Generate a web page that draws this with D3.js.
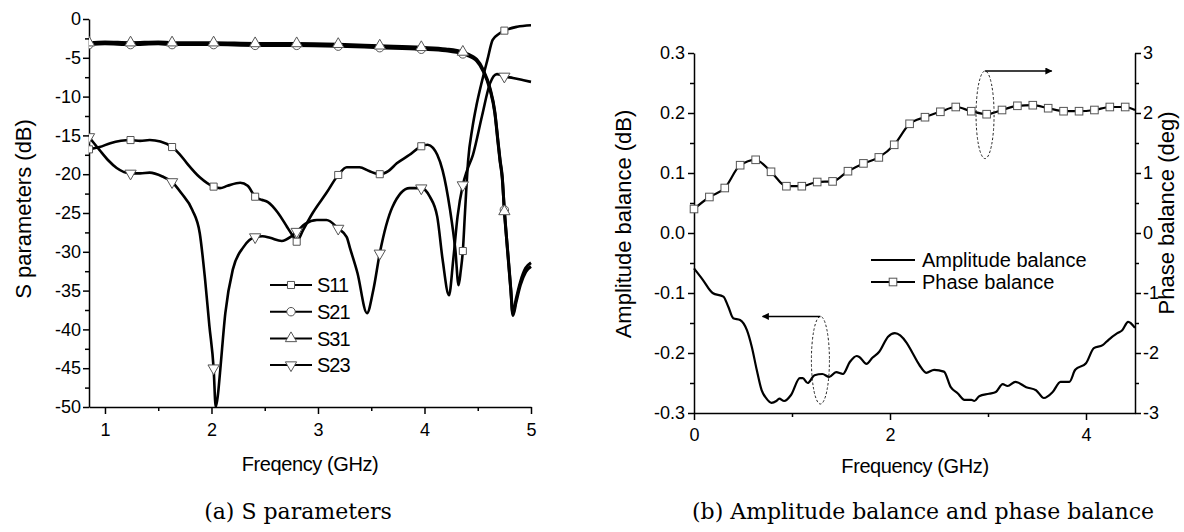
<!DOCTYPE html>
<html>
<head>
<meta charset="utf-8">
<script src="https://cdn.jsdelivr.net/npm/d3@7"></script>
<style>
    body { margin: 0; background: #fff; }
    svg { display: block; font-family: "Liberation Sans", Arial, sans-serif; }
</style>
</head>
<body>
<svg id="chart" width="1184" height="532"></svg>
<script>
// --- data (a) S parametry, [GHz, dB] ---
const markerFreqA = [0.85, 1.24, 1.63, 2.02, 2.41, 2.80, 3.19, 3.58, 3.97, 4.36, 4.75];

const s11 = [
    [0.85,-16.8],[0.95,-16.5],[1.05,-16.0],[1.15,-15.7],[1.24,-15.6],[1.33,-15.7],[1.42,-15.6],
    [1.52,-15.8],[1.63,-16.5],[1.70,-17.4],[1.77,-18.6],[1.89,-20.4],[2.02,-21.6],[2.08,-21.8],
    [2.15,-21.5],[2.27,-21.1],[2.34,-21.5],[2.41,-22.9],[2.47,-23.3],[2.53,-23.6],[2.62,-24.9],
    [2.71,-26.8],[2.77,-28.1],[2.80,-28.7],[2.86,-27.2],[2.95,-25.0],[3.08,-22.4],[3.19,-20.1],
    [3.27,-19.1],[3.39,-19.1],[3.48,-19.6],[3.58,-20.0],[3.66,-19.6],[3.74,-18.6],[3.86,-17.5],
    [3.97,-16.4],[4.03,-16.2],[4.08,-16.6],[4.12,-17.5],[4.17,-19.5],[4.24,-24.6],[4.29,-29.8],
    [4.32,-34.3],[4.34,-32.5],[4.36,-29.9],[4.38,-25.0],[4.41,-18.2],[4.45,-14.0],[4.49,-11.0],
    [4.54,-8.0],[4.59,-5.3],[4.64,-2.7],[4.70,-1.9],[4.75,-1.5],[4.87,-1.0],[5.0,-0.8]
];
const s21 = [
    [0.85,-3.3],[1.0,-3.2],[1.24,-3.3],[1.5,-3.2],[1.63,-3.3],[2.02,-3.3],[2.41,-3.4],[2.80,-3.4],
    [3.19,-3.5],[3.58,-3.7],[3.97,-3.9],[4.2,-4.1],[4.36,-4.5],[4.45,-5.0],[4.49,-5.4],[4.55,-6.7],
    [4.615,-9.1],[4.66,-12.1],[4.69,-15.9],[4.71,-18.4],[4.73,-20.5],[4.75,-24.6],[4.78,-29.9],
    [4.81,-34.9],[4.83,-38.2],[4.86,-36.5],[4.90,-34.3],[4.95,-32.6],[5.0,-31.9]
];
const s31 = [
    [0.85,-3.05],[1.0,-2.95],[1.24,-3.05],[1.5,-2.95],[1.63,-3.05],[2.02,-3.05],[2.41,-3.15],[2.80,-3.15],
    [3.19,-3.25],[3.58,-3.45],[3.97,-3.65],[4.2,-3.85],[4.36,-4.25],[4.45,-4.8],[4.49,-5.2],[4.55,-6.5],
    [4.615,-8.9],[4.66,-11.9],[4.69,-15.7],[4.71,-18.2],[4.73,-20.3],[4.75,-24.8],[4.78,-29.7],
    [4.81,-34.7],[4.83,-38.0],[4.86,-36.1],[4.90,-33.9],[4.95,-32.1],[5.0,-31.4]
];
const s23 = [
    [0.85,-15.2],[0.95,-16.9],[1.03,-18.2],[1.11,-19.2],[1.24,-19.9],[1.33,-19.9],[1.42,-19.8],
    [1.54,-20.3],[1.63,-21.0],[1.72,-22.5],[1.82,-24.6],[1.89,-27.6],[1.94,-33.6],[1.98,-39.5],
    [2.02,-45.0],[2.04,-50.0],[2.06,-48.5],[2.08,-45.6],[2.13,-37.9],[2.20,-32.3],[2.30,-29.4],
    [2.41,-28.1],[2.48,-28.0],[2.55,-28.2],[2.66,-28.6],[2.74,-28.1],[2.80,-27.4],[2.88,-26.4],
    [2.99,-25.9],[3.08,-25.9],[3.19,-27.0],[3.27,-28.1],[3.30,-29.5],[3.37,-32.7],[3.46,-37.9],
    [3.52,-34.9],[3.58,-30.2],[3.70,-24.2],[3.86,-21.8],[3.97,-21.8],[4.05,-22.9],[4.12,-25.5],
    [4.17,-31.0],[4.23,-35.6],[4.27,-31.0],[4.31,-25.5],[4.36,-21.4],[4.40,-19.5],[4.455,-17.5],
    [4.54,-12.5],[4.615,-8.3],[4.68,-7.1],[4.75,-7.4],[4.83,-7.6],[4.93,-7.9],[5.0,-8.1]
];
const legendA = ["S11", "S21", "S31", "S23"];

// --- data (b) amplitudova a fazova nevyvazenost ---
// [GHz, dB]
const amplitude = [
    [0.0,-0.059],[0.09,-0.078],[0.19,-0.100],[0.30,-0.106],[0.35,-0.123],[0.40,-0.142],[0.47,-0.145],
    [0.54,-0.162],[0.59,-0.190],[0.64,-0.228],[0.69,-0.262],[0.74,-0.276],[0.79,-0.283],[0.84,-0.280],
    [0.87,-0.276],[0.92,-0.280],[0.99,-0.270],[1.08,-0.242],[1.11,-0.242],[1.16,-0.250],[1.23,-0.237],
    [1.31,-0.235],[1.38,-0.240],[1.45,-0.232],[1.52,-0.235],[1.59,-0.215],[1.66,-0.205],[1.69,-0.207],
    [1.76,-0.218],[1.82,-0.208],[1.89,-0.198],[1.98,-0.173],[2.05,-0.167],[2.17,-0.183],[2.23,-0.200],
    [2.30,-0.220],[2.37,-0.233],[2.45,-0.228],[2.55,-0.231],[2.62,-0.257],[2.69,-0.267],[2.76,-0.278],
    [2.83,-0.278],[2.86,-0.280],[2.91,-0.272],[3.01,-0.268],[3.08,-0.265],[3.15,-0.252],[3.20,-0.255],
    [3.28,-0.248],[3.39,-0.257],[3.49,-0.262],[3.57,-0.275],[3.66,-0.265],[3.74,-0.248],[3.83,-0.248],
    [3.89,-0.228],[4.00,-0.217],[4.08,-0.192],[4.17,-0.187],[4.23,-0.178],[4.32,-0.167],[4.37,-0.162],
    [4.43,-0.148],[4.5,-0.158]
];
// [GHz, deg], posledni bod uz nema znacku
const phase = [
    [0.0,0.40],[0.157,0.60],[0.314,0.75],[0.471,1.13],[0.629,1.22],[0.786,1.02],[0.943,0.78],
    [1.1,0.78],[1.257,0.85],[1.414,0.86],[1.571,1.03],[1.729,1.16],[1.886,1.26],[2.043,1.47],
    [2.2,1.82],[2.357,1.93],[2.514,2.02],[2.671,2.10],[2.829,2.03],[2.986,1.98],[3.143,2.05],
    [3.3,2.12],[3.457,2.13],[3.614,2.08],[3.771,2.03],[3.929,2.03],[4.086,2.05],[4.243,2.10],
    [4.4,2.10],[4.5,2.05]
];
const legendB = ["Amplitude balance", "Phase balance"];
// ovaly s sipkami: [GHz, stred, polomer x (GHz), polomer y, konec sipky (GHz)]
const phaseNote = [2.97, 1.97, 0.092, 0.73, 3.65];
const ampNote = [1.29, -0.212, 0.092, 0.073, 0.70];

// --- skaly ---
const xa = d3.scaleLinear().domain([0.85, 5]).range([89, 531]);
const ya = d3.scaleLinear().domain([-50, 0]).range([407, 19]);
const xb = d3.scaleLinear().domain([0, 4.5]).range([694, 1135]);
const yb = d3.scaleLinear().domain([-0.3, 0.3]).range([413, 53]);
const yb2 = d3.scaleLinear().domain([-3, 3]).range([413, 53]);

const svg = d3.select("#chart");
svg.append("rect").attr("width", 1184).attr("height", 532).attr("fill", "#fff");

const defs = svg.append("defs");
defs.append("clipPath").attr("id", "clipA")
    .append("rect").attr("x", 89).attr("y", 10).attr("width", 450).attr("height", 398);
defs.append("marker").attr("id", "arrow")
    .attr("viewBox", "0 0 10 10").attr("refX", 9).attr("refY", 5)
    .attr("markerWidth", 11).attr("markerHeight", 7).attr("markerUnits", "userSpaceOnUse")
    .attr("orient", "auto")
    .append("path").attr("d", "M0,0 L10,5 L0,10 z").attr("fill", "#000");

// styl osy
function styleAxis(g, size) {
    g.selectAll("path, line").attr("stroke", "#000").attr("stroke-width", 1.5);
    g.selectAll("text").attr("font-size", size || 18).attr("fill", "#000")
        .attr("font-family", "Liberation Sans, Arial, sans-serif");
}
const fmtInt = d => String(d);
const fmt1 = d => d.toFixed(1);

// ================= (a) =================
const ga = svg.append("g");

ga.append("g").attr("transform", "translate(0,407)")
    .call(d3.axisBottom(xa).tickValues([1.5, 2.5, 3.5, 4.5]).tickSize(4).tickSizeOuter(0).tickFormat(""))
    .call(g => g.select(".domain").remove()).call(styleAxis);
ga.append("g").attr("transform", "translate(0,407)")
    .call(d3.axisBottom(xa).tickValues([1, 2, 3, 4, 5]).tickSize(7).tickPadding(9).tickSizeOuter(0).tickFormat(fmtInt))
    .call(styleAxis);
ga.append("g").attr("transform", "translate(89,0)")
    .call(d3.axisLeft(ya).tickValues(d3.range(-47.5, 0, 5)).tickSize(4).tickSizeOuter(0).tickFormat(""))
    .call(g => g.select(".domain").remove()).call(styleAxis);
ga.append("g").attr("transform", "translate(89,0)")
    .call(d3.axisLeft(ya).tickValues(d3.range(-50, 1, 5)).tickSize(6).tickPadding(2).tickSizeOuter(0).tickFormat(fmtInt))
    .call(styleAxis);

ga.append("text").attr("transform", "translate(31,209) rotate(-90)")
    .attr("text-anchor", "middle").attr("font-size", 22).text("S parameters (dB)");
ga.append("text").attr("x", 310).attr("y", 471)
    .attr("text-anchor", "middle").attr("font-size", 20).attr("letter-spacing", -0.4).text("Freqency (GHz)");

const lineA = d3.line().curve(d3.curveMonotoneX).x(d => xa(d[0])).y(d => ya(d[1]));
const plotA = ga.append("g").attr("clip-path", "url(#clipA)");
const seriesA = [
    {name: "S11", data: s11, sym: d3.symbolSquare, size: 50, rot: 0, w: 2.6},
    {name: "S21", data: s21, sym: d3.symbolCircle, size: 56, rot: 0, w: 3},
    {name: "S31", data: s31, sym: d3.symbolTriangle, size: 55, rot: 0, w: 3},
    {name: "S23", data: s23, sym: d3.symbolTriangle, size: 55, rot: 180, w: 2.6}
];
seriesA.forEach(s => {
    plotA.append("path").datum(s.data)
        .attr("fill", "none").attr("stroke", "#000").attr("stroke-width", s.w)
        .attr("stroke-linejoin", "round").attr("d", lineA);
});
const isMark = f => markerFreqA.some(m => Math.abs(m - f) < 1e-6);
seriesA.forEach(s => {
    plotA.selectAll(null).data(s.data.filter(d => isMark(d[0])))
        .join("path")
        .attr("transform", d => `translate(${xa(d[0])},${ya(d[1])}) rotate(${s.rot})`)
        .attr("d", d3.symbol().type(s.sym).size(s.size))
        .attr("fill", "#fff").attr("stroke", "#555").attr("stroke-width", 1);
});

// legenda (a)
const legA = ga.append("g");
seriesA.forEach((s, i) => {
    const y = 285 + i * 26.7;
    legA.append("line").attr("x1", 270).attr("x2", 312).attr("y1", y).attr("y2", y)
        .attr("stroke", "#000").attr("stroke-width", 2);
    legA.append("path").attr("transform", `translate(291,${y}) rotate(${s.rot})`)
        .attr("d", d3.symbol().type(s.sym).size(s.size))
        .attr("fill", "#fff").attr("stroke", "#555").attr("stroke-width", 1);
    legA.append("text").attr("x", 317).attr("y", y).attr("dy", "0.36em")
        .attr("font-size", 20).attr("letter-spacing", -1).text(legendA[i]);
});

// ================= (b) =================
const gb = svg.append("g");

gb.append("g").attr("transform", "translate(0,413)")
    .call(d3.axisBottom(xb).tickValues([1, 3]).tickSize(4).tickSizeOuter(0).tickFormat(""))
    .call(g => g.select(".domain").remove()).call(styleAxis);
gb.append("g").attr("transform", "translate(0,413)")
    .call(d3.axisBottom(xb).tickValues([0, 2, 4]).tickSize(7).tickPadding(8).tickSizeOuter(0).tickFormat(fmtInt))
    .call(styleAxis);
gb.append("g").attr("transform", "translate(694,0)")
    .call(d3.axisLeft(yb).tickValues([-0.25, -0.15, -0.05, 0.05, 0.15, 0.25]).tickSize(4).tickSizeOuter(0).tickFormat(""))
    .call(g => g.select(".domain").remove()).call(styleAxis);
gb.append("g").attr("transform", "translate(694,0)")
    .call(d3.axisLeft(yb).tickValues([-0.3, -0.2, -0.1, 0, 0.1, 0.2, 0.3]).tickSize(6).tickPadding(3).tickSizeOuter(0).tickFormat(fmt1))
    .call(styleAxis);
gb.append("g").attr("transform", "translate(1135,0)")
    .call(d3.axisRight(yb2).tickValues([-2.5, -1.5, -0.5, 0.5, 1.5, 2.5]).tickSize(4).tickSizeOuter(0).tickFormat(""))
    .call(g => g.select(".domain").remove()).call(styleAxis);
gb.append("g").attr("transform", "translate(1135,0)")
    .call(d3.axisRight(yb2).tickValues([-3, -2, -1, 0, 1, 2, 3]).tickSize(6).tickPadding(2).tickSizeOuter(0).tickFormat(fmtInt))
    .call(styleAxis);

gb.append("text").attr("transform", "translate(631,224) rotate(-90)")
    .attr("text-anchor", "middle").attr("font-size", 22).text("Amplitude balance (dB)");
gb.append("text").attr("transform", "translate(1174,213) rotate(-90)")
    .attr("text-anchor", "middle").attr("font-size", 22).text("Phase balance (deg)");
gb.append("text").attr("x", 915).attr("y", 473)
    .attr("text-anchor", "middle").attr("font-size", 20).attr("letter-spacing", -0.4).text("Frequency (GHz)");

gb.append("path").datum(amplitude)
    .attr("fill", "none").attr("stroke", "#000").attr("stroke-width", 2.2).attr("stroke-linejoin", "round")
    .attr("d", d3.line().curve(d3.curveMonotoneX).x(d => xb(d[0])).y(d => yb(d[1])));
gb.append("path").datum(phase)
    .attr("fill", "none").attr("stroke", "#000").attr("stroke-width", 2.2).attr("stroke-linejoin", "round")
    .attr("d", d3.line().curve(d3.curveMonotoneX).x(d => xb(d[0])).y(d => yb2(d[1])));
gb.selectAll(null).data(phase.slice(0, phase.length - 1))
    .join("rect")
    .attr("x", d => xb(d[0]) - 3.8).attr("y", d => yb2(d[1]) - 3.8)
    .attr("width", 7.6).attr("height", 7.6)
    .attr("fill", "#fff").attr("stroke", "#555").attr("stroke-width", 1);

// ovaly a sipky
[[phaseNote, yb2], [ampNote, yb]].forEach(([n, sy]) => {
    const cx = xb(n[0]), cy = sy(n[1]);
    const rx = xb(n[0] + n[2]) - cx, ry = cy - sy(n[1] + n[3]);
    gb.append("ellipse").attr("cx", cx).attr("cy", cy).attr("rx", rx).attr("ry", ry)
        .attr("fill", "none").attr("stroke", "#222").attr("stroke-width", 1).attr("stroke-dasharray", "2.5,2");
    gb.append("line").attr("x1", cx).attr("x2", xb(n[4])).attr("y1", cy - ry).attr("y2", cy - ry)
        .attr("stroke", "#000").attr("stroke-width", 1.5).attr("marker-end", "url(#arrow)");
});

// legenda (b)
const legB = gb.append("g");
legendB.forEach((name, i) => {
    const y = 260 + i * 22;
    legB.append("line").attr("x1", 871).attr("x2", 915).attr("y1", y).attr("y2", y)
        .attr("stroke", "#000").attr("stroke-width", 2);
    if (i === 1)
        legB.append("rect").attr("x", 893 - 3.8).attr("y", y - 3.8).attr("width", 7.6).attr("height", 7.6)
            .attr("fill", "#fff").attr("stroke", "#555").attr("stroke-width", 1);
    legB.append("text").attr("x", 922).attr("y", y).attr("dy", "0.36em")
        .attr("font-size", 20).text(name);
});

// popisky pod grafy
svg.append("text").attr("x", 298).attr("y", 519).attr("text-anchor", "middle")
    .attr("font-family", "DejaVu Serif, serif").attr("font-size", 22).text("(a) S parameters");
svg.append("text").attr("x", 923).attr("y", 519).attr("text-anchor", "middle")
    .attr("font-family", "DejaVu Serif, serif").attr("font-size", 22).text("(b) Amplitude balance and phase balance");
</script>
</body>
</html>
